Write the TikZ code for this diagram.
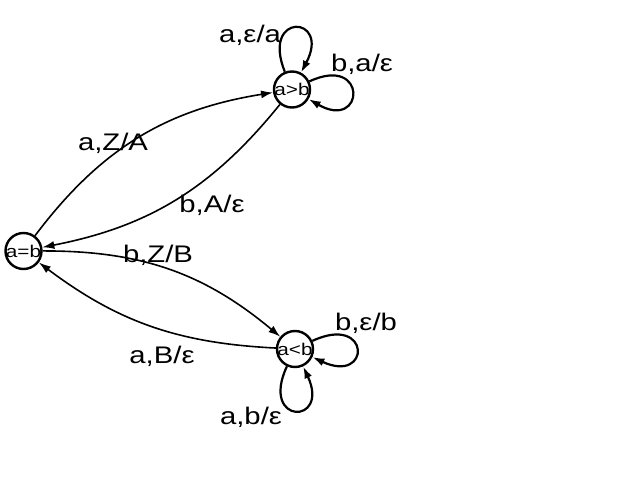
\documentclass[tikz,border=0pt]{standalone}
\usepackage{fontspec}
\setmainfont{Liberation Sans}
\newfontfamily\widesans[FakeStretch=1.22]{Liberation Sans}
\usetikzlibrary{arrows.meta}

\begin{document}
\begin{tikzpicture}[x=1pt, y=1pt,
	state/.style={shape=circle, draw=black, line width=2.4pt, minimum size=36pt, inner sep=0pt},
	statetext/.style={font=\widesans\fontsize{17}{20}\selectfont},
	trans/.style={-{Latex[length=12pt,width=8pt]}, line width=1.6pt},
	loopy/.style={trans, line width=2.2pt, distance=65pt},
	lbl/.style={font=\widesans\fontsize{24}{28}\selectfont}]

	\useasboundingbox (0, 0) rectangle (635, 501);

	\node[state, label={[statetext]center:{a=b}}] (eq) at (23.5, 250)  {};
	
	\node[state, label={[statetext]center:{a>b}}] (gt) at (292, 411.5) {};
	\node[state, label={[statetext]center:{a<b}}] (lt) at (295, 152)   {};


	\node[lbl] (gtup)    at (250, 466) {a,ε/a};
	\node[lbl] (gtright) at (362, 437) {b,a/ε};
	\node[lbl] (eqgt)    at (113, 358) {a,Z/A};
	\node[lbl] (gteq)    at (212, 296) {b,A/ε};
	\node[lbl] (eqlt)    at (158, 246) {b,Z/B};
	\node[lbl] (lteq)    at (162, 145) {a,B/ε};
	\node[lbl] (ltright) at (366, 178) {b,ε/b};
	\node[lbl] (ltdown)  at (251, 84)  {a,b/ε};


	\draw[trans] (eq) to[bend left=22] (gt);
	\draw[trans] (gt) to[bend left=20] (eq);
	
	\draw[trans] (eq) to[bend left=20] (lt);
	\draw[trans] (lt) to[bend left=17] (eq);

	\draw[loopy] (gt) to[out=112, in=62] (gt);
	\draw[loopy] (gt) to[out=25, in=-30] (gt);
	\draw[loopy] (lt) to[out=25, in=-25] (lt);
	\draw[loopy] (lt) to[out=-115, in=-65] (lt);

\end{tikzpicture}
\end{document}
